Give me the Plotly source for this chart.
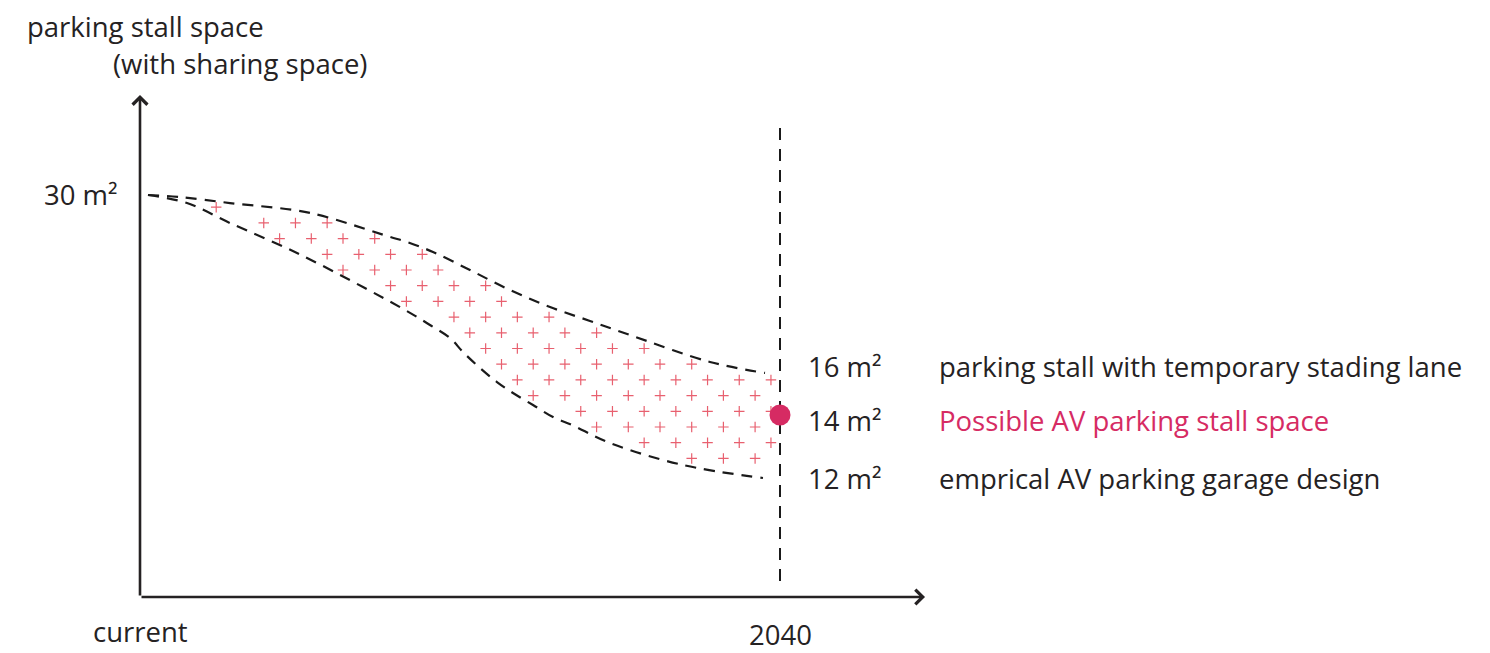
import numpy as np
import plotly.graph_objects as go

# x: 0 = current, 1 = 2040 ; y: schematic stall-space scale (not linear in m²)
upper_x = [0.0125, 0.0625, 0.1406, 0.2656, 0.3906, 0.4172, 0.4578, 0.5156, 0.5781, 0.6406, 0.7031, 0.7656, 0.8906, 0.9766]
upper_y = [30.0, 29.85, 29.40, 28.66, 26.87, 26.49, 25.75, 24.40, 22.91, 21.64, 20.60, 19.55, 17.54, 16.72]

lower_x = [0.0125, 0.0734, 0.1406, 0.2453, 0.3484, 0.4141, 0.4531, 0.4844, 0.5047, 0.5313, 0.5578, 0.5828,
           0.6141, 0.6453, 0.675, 0.7344, 0.8484, 0.9734]
lower_y = [30.0, 29.40, 27.91, 25.67, 23.13, 21.42, 20.30, 19.33, 18.28, 17.09, 16.04, 15.22,
           14.33, 13.43, 12.84, 11.49, 9.85, 8.88]

target_x = [1.0]
target_y = [13.58]

start_label = '30 m²'
start_level = 30.0
end_labels = ['16 m²', '14 m²', '12 m²']
end_descriptions = ['parking stall with temporary stading lane',
                    'Possible AV parking stall space',
                    'emprical AV parking garage design']
end_levels = [upper_y[-1], target_y[0], lower_y[-1]]
x_labels = ['current', '2040']

INK = '#252223'
PINK = '#d62b63'
FONT = 'Open Sans'
FS = 27.5

fig = go.Figure()

# decorative '+' texture inside the band
dx, dy = 31.7 / 640, 15.7 / 13.4
gx, gy = [], []
for i, yy in enumerate(np.arange(8.0, 31.0, dy)):
    off = 0 if i % 2 == 0 else dx / 2
    for xx in np.arange(0.02 + off, 1.0, dx):
        top = np.interp(xx, upper_x, upper_y)
        bot = np.interp(xx, lower_x, lower_y)
        if bot + 0.4 < yy < top - 0.3:
            gx.append(xx)
            gy.append(yy)
fig.add_trace(go.Scatter(x=gx, y=gy, mode='markers', hoverinfo='skip',
                         marker=dict(symbol='cross-thin', size=7.5, line=dict(width=1.2, color='#e8606f'))))

for xs, ys in [(upper_x, upper_y), (lower_x, lower_y)]:
    fig.add_trace(go.Scatter(x=xs, y=ys, mode='lines',
                             line=dict(color='#1a1a1a', width=2.2, dash='11px,8px', shape='spline')))

# 2040 marker line
fig.add_trace(go.Scatter(x=[1, 1], y=[35.0, 0.9], mode='lines',
                         line=dict(color='#1a1a1a', width=2, dash='12px,9px')))

fig.add_trace(go.Scatter(x=target_x, y=target_y, mode='markers',
                         marker=dict(size=21, color=PINK)))

ann = []
# axes with open arrow heads
ann.append(dict(x=0, y=37.46, ax=0, ay=0, xref='x', yref='y', axref='x', ayref='y', text='',
                showarrow=True, arrowhead=4, arrowsize=1.1, arrowwidth=2.6, arrowcolor=INK))
ann.append(dict(x=1.2266, y=0, ax=0, ay=0, xref='x', yref='y', axref='x', ayref='y', text='',
                showarrow=True, arrowhead=4, arrowsize=1.1, arrowwidth=2.6, arrowcolor=INK))

ann.append(dict(x=-0.1797, y=42.69, text='parking stall space', xanchor='left', showarrow=False, yshift=-2))
ann.append(dict(x=-0.0453, y=39.85, text='(with sharing space)', xanchor='left', showarrow=False))
ann.append(dict(x=-0.031, y=start_level, text=start_label, xanchor='right', showarrow=False, yshift=1))
ann.append(dict(x=0.0, y=-2.61, text=x_labels[0], xanchor='center', showarrow=False))
ann.append(dict(x=1.0, y=-2.99, text=x_labels[1], xanchor='center', showarrow=False, yshift=3))

shifts = [6, -5, 0]
for i, (lab, desc, lev) in enumerate(zip(end_labels, end_descriptions, end_levels)):
    ann.append(dict(x=1.0406, y=lev, text=lab, xanchor='left', showarrow=False, yshift=shifts[i]))
    ann.append(dict(x=1.2453, y=lev, text=desc, xanchor='left', showarrow=False, yshift=shifts[i],
                    font=dict(color=PINK if i == 1 else INK)))

# page body adds an 8px offset, so the ranges are shifted to compensate
fig.update_layout(
    width=1490, height=653,
    margin=dict(l=0, r=0, t=0, b=0),
    paper_bgcolor='white', plot_bgcolor='white',
    showlegend=False,
    font=dict(family=FONT, size=FS, color=INK),
    xaxis=dict(range=[-132 / 640, 1358 / 640], visible=False, fixedrange=True),
    yaxis=dict(range=[-64 / 13.4, 589 / 13.4], visible=False, fixedrange=True),
    annotations=ann,
)

fig.write_html("out.html")
